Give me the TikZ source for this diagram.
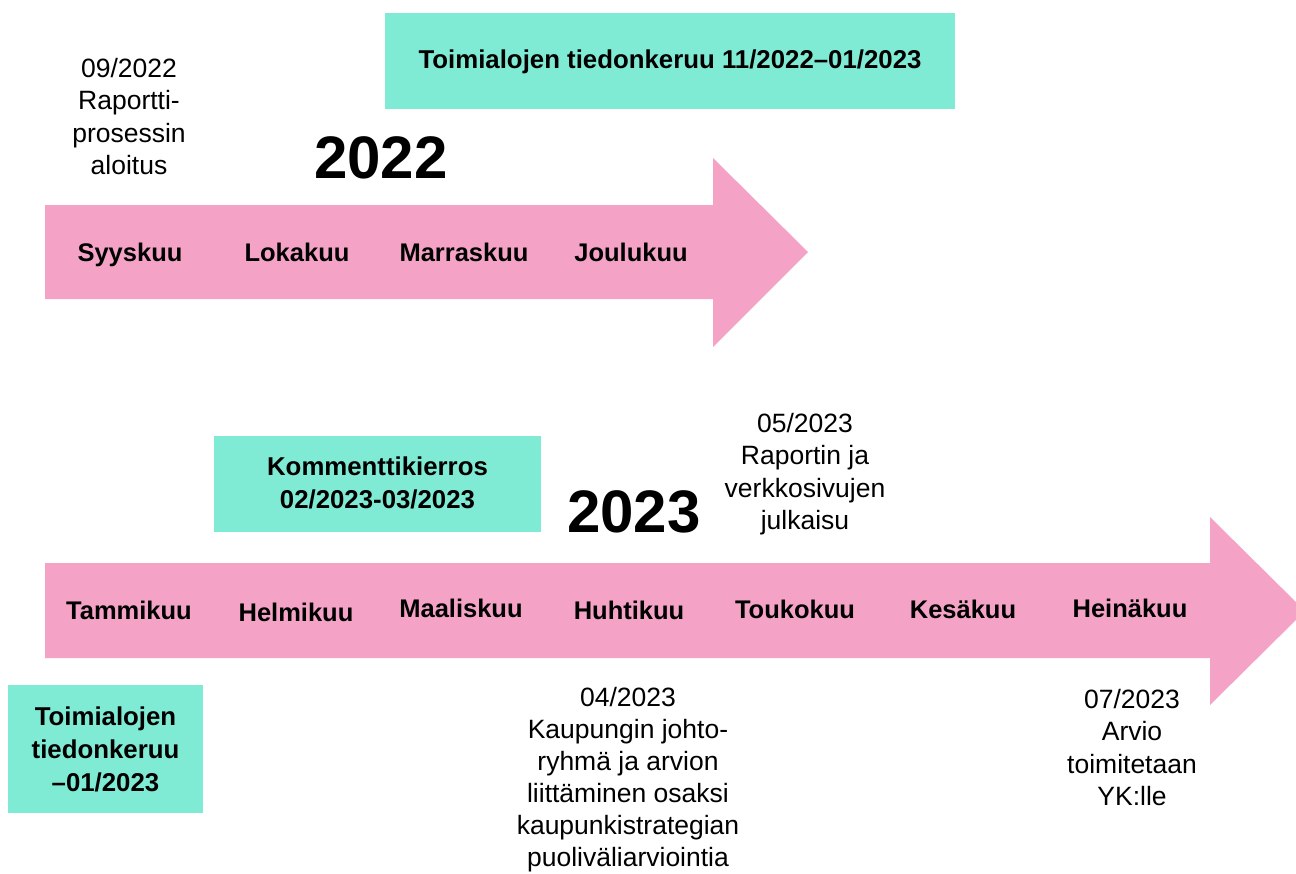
\documentclass[tikz,border=0pt]{standalone}
\usepackage{fontspec}
\setmainfont{Liberation Sans}
\definecolor{pinkarrow}{RGB}{244,163,199}
\definecolor{mintbox}{RGB}{128,235,212}
\newcommand{\mlines}[1]{\begin{tabular}[t]{@{}c@{}}#1\end{tabular}}
\tikzset{
  arrowbody/.style={fill=pinkarrow, draw=none},
  mbox/.style={fill=mintbox, draw=none},
  month/.style={anchor=base, inner sep=0pt, font=\bfseries\fontsize{25.5}{31}\selectfont},
  boxtext/.style={anchor=base, inner sep=0pt, font=\bfseries\fontsize{25.8}{33}\selectfont},
  note/.style={anchor=base, inner sep=0pt, font=\fontsize{26.5}{32.5}\selectfont},
  year/.style={anchor=base, inner sep=0pt, font=\bfseries\fontsize{60}{60}\selectfont}
}
\begin{document}
\begin{tikzpicture}[x=1pt,y=-1pt]
\useasboundingbox (0,0) rectangle (1296,873);
\clip (0,0) rectangle (1296,873);
% arrows
\fill[arrowbody] (45,205) -- (713,205) -- (713,158) -- (808,252) -- (713,347) -- (713,299) -- (45,299) -- cycle;
\fill[arrowbody] (45,563) -- (1210,563) -- (1210,517) -- (1305,611) -- (1210,705) -- (1210,658) -- (45,658) -- cycle;
% mint boxes
\fill[mbox] (385,13) rectangle (955,109);
\fill[mbox] (214,436) rectangle (541,532);
\fill[mbox] (8,685) rectangle (203,813);
\node[boxtext] (b1) at (670,68) {Toimialojen tiedonkeruu 11/2022–01/2023};
\node[boxtext] (b2) at (377.5,475) {\mlines{Kommenttikierros\\02/2023-03/2023}};
\node[boxtext] (b3) at (105.5,725) {\mlines{Toimialojen\\tiedonkeruu\\–01/2023}};
% years
\node[year] (y22) at (381,178) {2022};
\node[year] (y23) at (634,532) {2023};
% months 2022
\node[month] (m9) at (130,261) {Syyskuu};
\node[month] (m10) at (297,261) {Lokakuu};
\node[month] (m11) at (464,261) {Marraskuu};
\node[month] (m12) at (631,261) {Joulukuu};
% months 2023
\node[month] (m1) at (129,619) {Tammikuu};
\node[month] (m2) at (296,621) {Helmikuu};
\node[month] (m3) at (461,617) {Maaliskuu};
\node[month] (m4) at (629,619) {Huhtikuu};
\node[month] (m5) at (795,618) {Toukokuu};
\node[month] (m6) at (963,618) {Kesäkuu};
\node[month] (m7) at (1130,617) {Heinäkuu};
% notes
\node[note] (n1) at (129,77) {\mlines{09/2022\\Raportti-\\prosessin\\aloitus}};
\node[note] (n2) at (805,432) {\mlines{05/2023\\Raportin ja\\verkkosivujen\\julkaisu}};
\node[note, font=\fontsize{26.5}{32}\selectfont] (n3) at (628,706) {\mlines{04/2023\\Kaupungin johto-\\ryhmä ja arvion\\liittäminen osaksi\\kaupunkistrategian\\puoliväliarviointia}};
\node[note] (n4) at (1132,708) {\mlines{07/2023\\Arvio\\toimitetaan\\YK:lle}};
\end{tikzpicture}
\end{document}
